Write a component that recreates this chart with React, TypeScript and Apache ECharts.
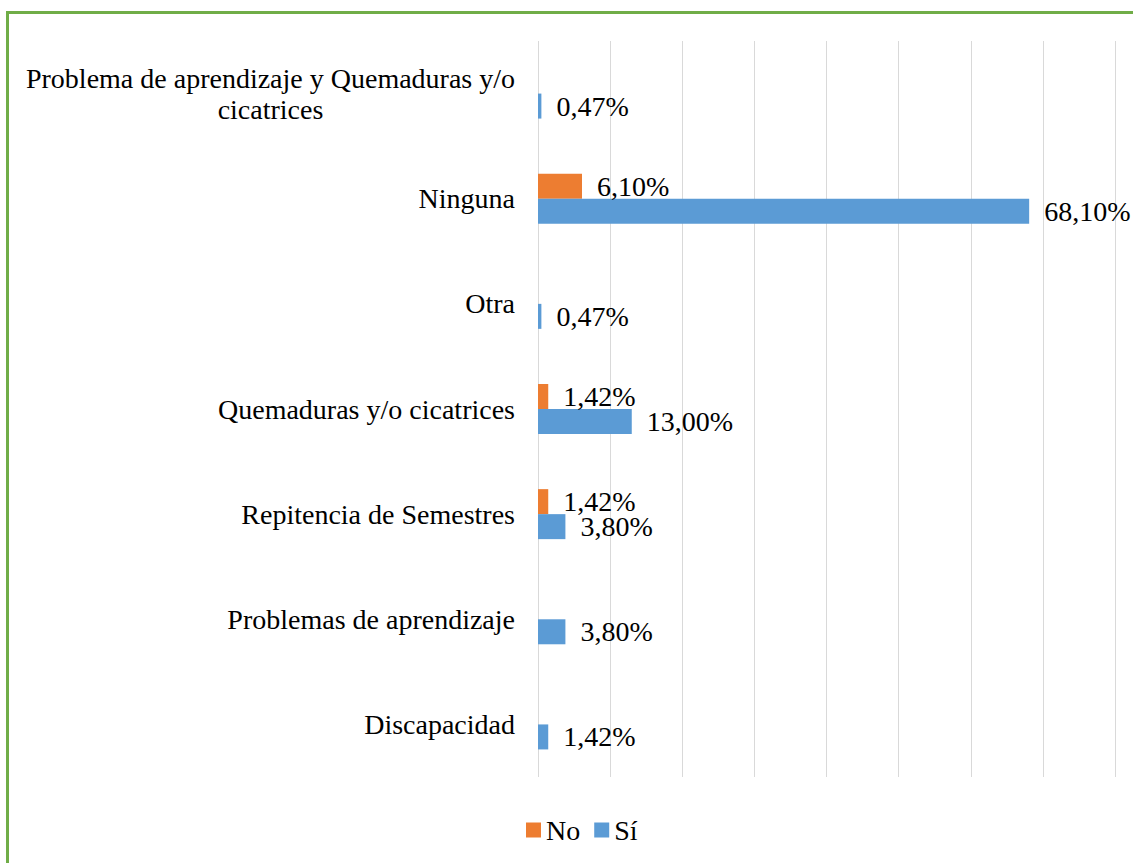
import React, { useEffect, useRef } from "react";
import * as echarts from "echarts";

const categories = [
  "Discapacidad",
  "Problemas de aprendizaje",
  "Repitencia de Semestres",
  "Quemaduras y/o cicatrices",
  "Otra",
  "Ninguna",
  "Problema de aprendizaje y Quemaduras y/o cicatrices",
];
const noValues: (number | null)[] = [null, null, 1.42, 1.42, null, 6.1, null];
const siValues: (number | null)[] = [1.42, 3.8, 3.8, 13.0, 0.47, 68.1, 0.47];
const seriesNames = ["No", "Sí"];

const FONT = "Times New Roman, Liberation Serif, DejaVu Serif, serif";

export default function App() {
  const ref = useRef<HTMLDivElement>(null);
  useEffect(() => {
    if (!ref.current) return;
    const chart = echarts.init(ref.current, null, { renderer: "svg" });
    const fmt = (p: any) =>
      p.value == null ? "" : Number(p.value).toFixed(2).replace(".", ",") + "%";
    const labelCfg = {
      show: true,
      position: "right",
      distance: 15,
      formatter: fmt,
      fontSize: 28,
      fontFamily: FONT,
      color: "#000",
    };
    chart.setOption({
      animation: false,
      backgroundColor: "#fff",
      textStyle: { fontFamily: FONT },
      grid: { left: 538, right: 18, top: 41, bottom: 86, containLabel: false },
      xAxis: {
        type: "value",
        min: 0,
        max: 80,
        interval: 10,
        axisLabel: { show: false },
        axisLine: { show: false },
        axisTick: { show: false },
        splitLine: { show: true, lineStyle: { color: "#D9D9D9", width: 1 } },
      },
      yAxis: {
        type: "category",
        data: categories,
        axisLine: { show: false },
        axisTick: { show: false },
        axisLabel: {
          margin: 23,
          fontSize: 28,
          fontFamily: FONT,
          color: "#000",
          lineHeight: 31,
          formatter: (v: string) => {
            if (v.length > 40) {
              const i = v.lastIndexOf(" ", 41);
              return "{a|" + v.slice(0, i) + "}\n{a|" + v.slice(i + 1) + "}";
            }
            return v;
          },
          rich: {
            a: {
              align: "center",
              fontSize: 28,
              fontFamily: FONT,
              color: "#000",
              lineHeight: 31,
            },
          },
        },
      },
      legend: {
        data: seriesNames,
        left: 521,
        top: 811,
        icon: "rect",
        itemWidth: 15,
        itemHeight: 15,
        itemGap: 14,
        textStyle: { fontSize: 28, fontFamily: FONT, color: "#000" },
      },
      series: [
        {
          name: seriesNames[0],
          type: "bar",
          data: noValues,
          barWidth: 25,
          barGap: "0%",
          itemStyle: { color: "#ED7D31" },
          label: labelCfg,
        },
        {
          name: seriesNames[1],
          type: "bar",
          data: siValues,
          barWidth: 25,
          barGap: "0%",
          itemStyle: { color: "#5B9BD5" },
          label: labelCfg,
        },
      ],
      graphic: [
        {
          type: "rect",
          shape: { x: 7.5, y: 12.5, width: 1140, height: 900 },
          style: { fill: "none", stroke: "#70AD47", lineWidth: 3 },
          silent: true,
        },
      ],
    });
    return () => chart.dispose();
  }, []);
  return (
    <div
      ref={ref}
      style={{ position: "absolute", left: 0, top: 0, width: 1133, height: 863 }}
    />
  );
}
